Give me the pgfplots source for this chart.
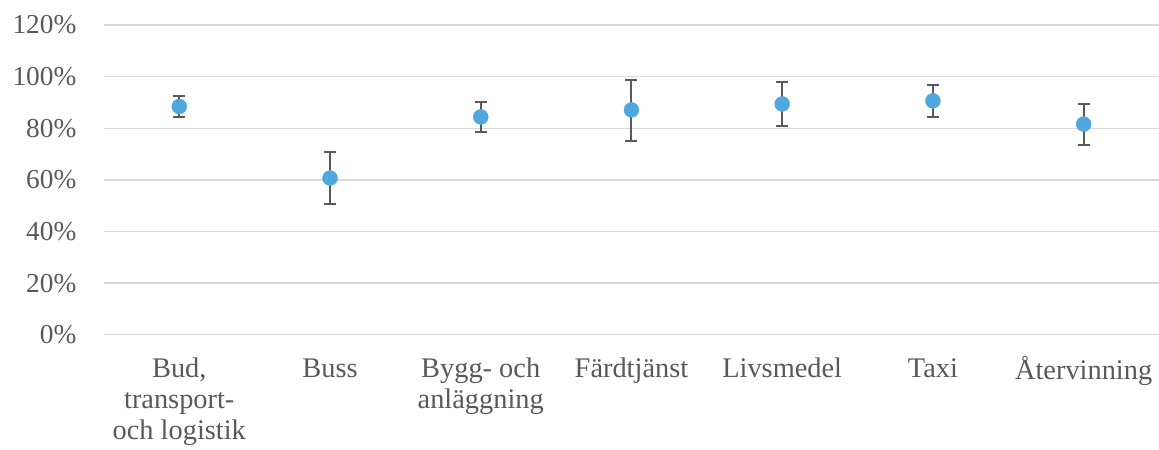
\documentclass[border=0pt]{standalone}
\usepackage{pgfplots}
\pgfplotsset{compat=1.18}
\usepackage{fontspec}
\setmainfont{Liberation Serif}
\definecolor{txt}{RGB}{89,89,89}
\definecolor{gridc}{RGB}{217,217,217}
\definecolor{dot}{RGB}{79,167,222}
\begin{document}
\begin{tikzpicture}
\begin{axis}[name=ax, scale only axis, width=1056bp, height=310bp,
 xmin=-0.5, xmax=6.5, ymin=0, ymax=120, ytick={0,20,...,120},
 xtick={0,...,6},
 xticklabels={{Bud,\\transport-\\och logistik}, Buss, {Bygg- och\\anläggning}, Färdtjänst, Livsmedel, Taxi, Återvinning},
 axis line style={draw=none}, major tick length=0,
 ymajorgrids, grid style={draw=gridc, line width=1.3bp},
 tick label style={text=txt},
 /pgf/number format/assume math mode=true,
 yticklabel={\pgfmathprintnumber{\tick}\%},
 yticklabel style={font=\fontsize{27.5}{33}\selectfont, xshift=-24bp},
 xticklabel style={font=\fontsize{28.5}{31}\selectfont, align=center, yshift=-18bp},
 typeset ticklabels with strut,
 clip=false]
\addplot[only marks, mark=*, mark size=7.5bp, mark options={draw=dot, fill=dot},
  error bars/.cd, y dir=both, y explicit,
  error bar style={line width=2bp, color=txt},
  error mark options={rotate=90, mark size=6bp, line width=2bp, color=txt}]
 table[x=x, y=y, y error plus=ep, y error minus=em] {
x y ep em
0 88.4 3.9 3.9
1 60.7 10.0 10.0
2 84.4 5.7 5.7
3 87.1 11.6 11.9
4 89.4 8.5 8.5
5 90.6 6.2 6.1
6 81.6 7.8 8.2
};
\end{axis}
\pgfresetboundingbox
\path ([xshift=-104bp, yshift=-115bp]ax.south west) rectangle ([yshift=25bp]ax.north east);
\end{tikzpicture}
\end{document}
